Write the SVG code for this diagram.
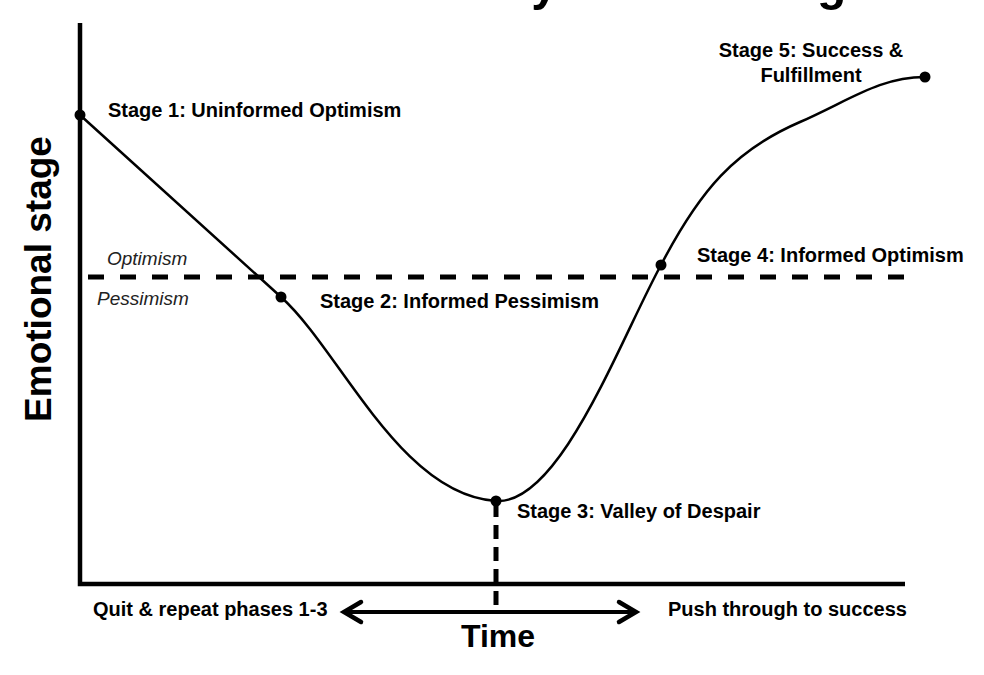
<svg xmlns="http://www.w3.org/2000/svg" width="984" height="675" viewBox="0 0 984 675">
<style>
text { font-family: "Liberation Sans", Arial, sans-serif; fill: #000; }
.lbl { font-size: 20px; font-weight: bold; }
.zone { font-size: 19px; font-style: italic; fill: #222; }
.dot { fill: #000; }
.curve { fill: none; stroke: #000; stroke-width: 2.5; }
.axis { fill: none; stroke: #000; stroke-width: 4.5; stroke-linejoin: miter; }
.dash { fill: none; stroke: #000; stroke-width: 5; }
</style>
<defs>
<marker id="chev" markerUnits="userSpaceOnUse" markerWidth="26" markerHeight="26" refX="20" refY="12" orient="auto-start-reverse" overflow="visible">
<path d="M3,2 L20,12 L3,22" fill="none" stroke="#000" stroke-width="4.5" stroke-linecap="round" stroke-linejoin="miter"/>
</marker>
</defs>
<rect width="984" height="675" fill="#fff"/>
<text id="title" x="251" y="0" style="font-size:50px;font-weight:bold" textLength="622" lengthAdjust="spacingAndGlyphs">Emotional Cycle of Change</text>
<g id="axes">
<polyline class="axis" points="80,23 80,584 905,584"/>
<text x="0" y="0" transform="translate(51,279) rotate(-90)" text-anchor="middle" style="font-size:37px;font-weight:bold">Emotional stage</text>
<text x="498" y="647" text-anchor="middle" style="font-size:32px;font-weight:bold">Time</text>
</g>
<g id="threshold">
<line class="dash" x1="88" y1="277" x2="905" y2="277" stroke-dasharray="16 16"/>
<text class="zone" x="107" y="265">Optimism</text>
<text class="zone" x="97" y="305">Pessimism</text>
</g>
<g id="connectors">
<path class="curve" d="M80,115 L281,297 C340,350 400,495 496,501 C560,505 620,340 661,265 C700,190 735,150 800,122 C850,100 880,77 925,77"/>
<line class="dash" x1="496" y1="503" x2="496" y2="612" stroke-dasharray="14 8"/>
<line x1="344" y1="612" x2="636" y2="612" stroke="#000" stroke-width="4" marker-start="url(#chev)" marker-end="url(#chev)"/>
</g>
<g id="stage1"><circle class="dot" cx="80" cy="115" r="5.5"/><text class="lbl" x="108" y="117">Stage 1: Uninformed Optimism</text></g>
<g id="stage2"><circle class="dot" cx="281" cy="297" r="5.5"/><text class="lbl" x="320" y="308">Stage 2: Informed Pessimism</text></g>
<g id="stage3"><circle class="dot" cx="496" cy="501" r="5.5"/><text class="lbl" x="517" y="518">Stage 3: Valley of Despair</text></g>
<g id="stage4"><circle class="dot" cx="661" cy="265" r="5.5"/><text class="lbl" x="697" y="262">Stage 4: Informed Optimism</text></g>
<g id="stage5"><circle class="dot" cx="925" cy="77" r="5.5"/><text class="lbl" x="811" y="57" text-anchor="middle">Stage 5: Success &amp;</text><text class="lbl" x="811" y="82" text-anchor="middle">Fulfillment</text></g>
<g id="outcomes">
<text class="lbl" x="93" y="616">Quit &amp; repeat phases 1-3</text>
<text class="lbl" x="668" y="616">Push through to success</text>
</g>
</svg>
